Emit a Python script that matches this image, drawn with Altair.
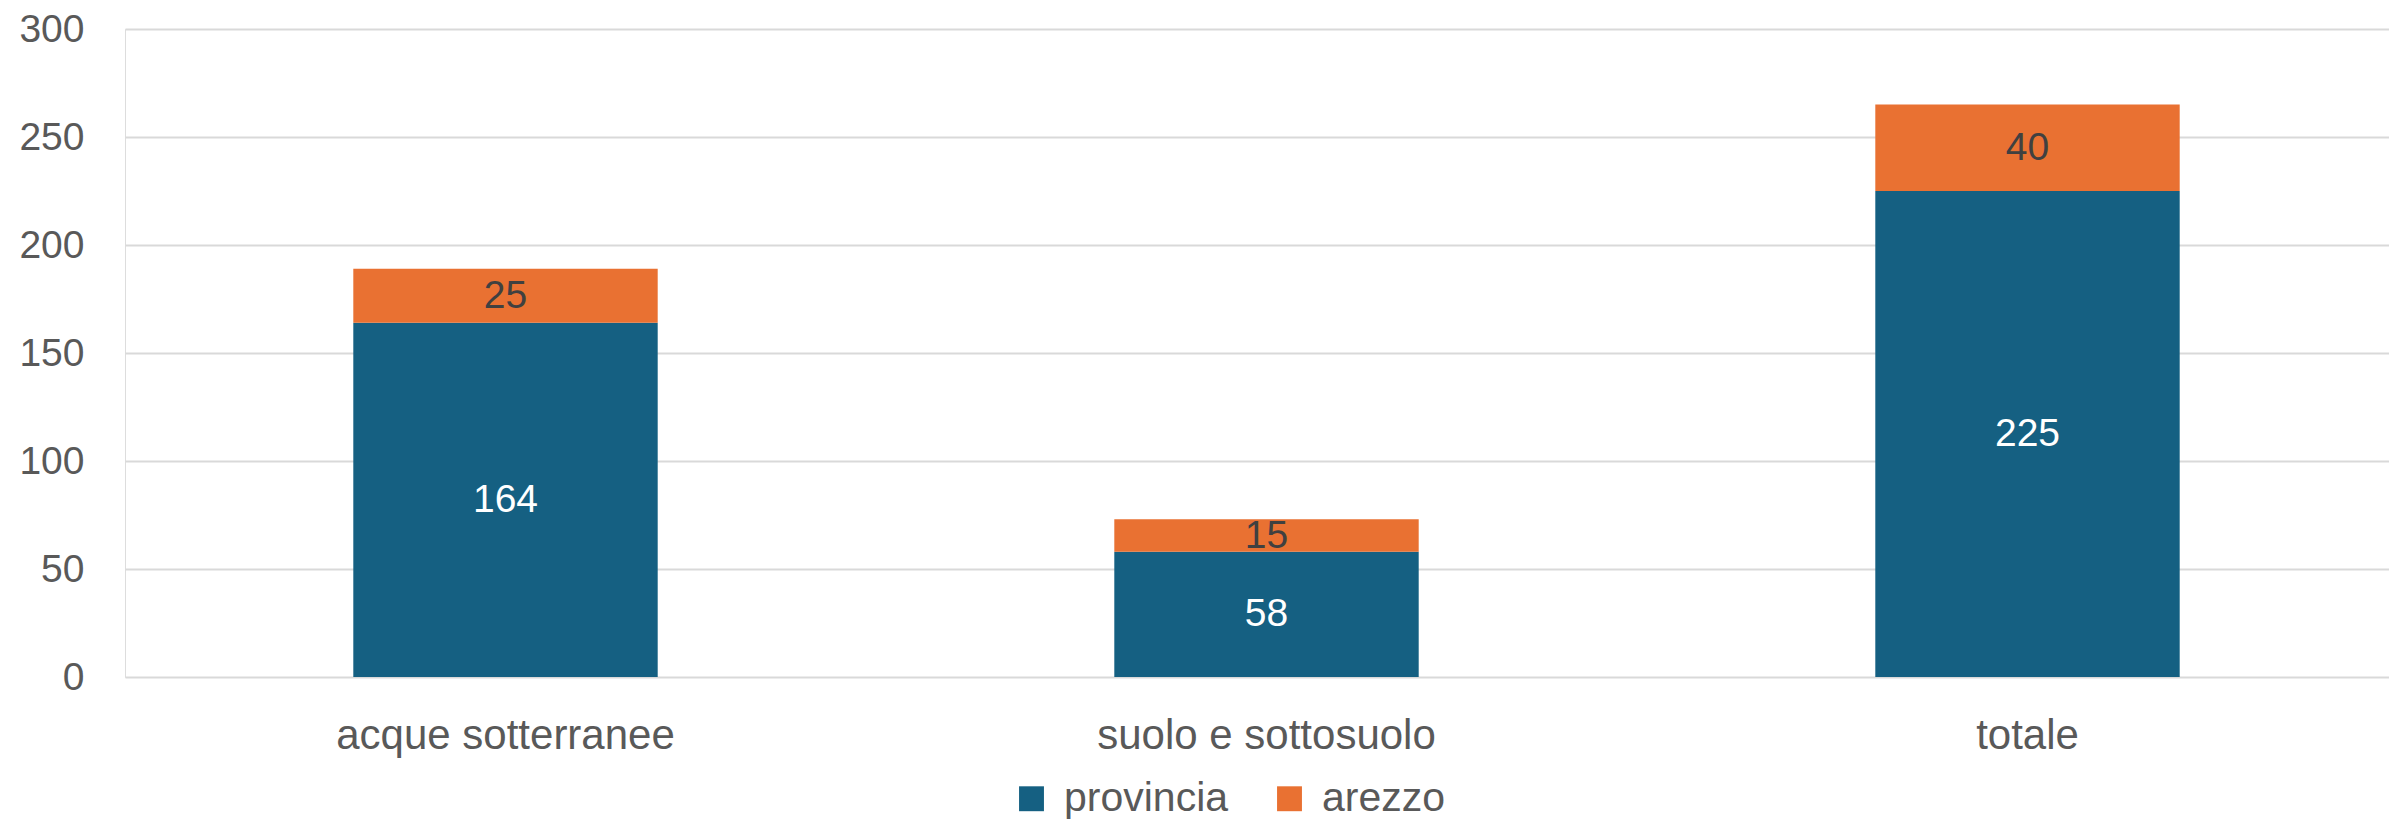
import altair as alt
import pandas as pd

categories = ["acque sotterranee", "suolo e sottosuolo", "totale"]
provincia = [164, 58, 225]
arezzo = [25, 15, 40]
series_names = ["provincia", "arezzo"]
y_ticks = [0, 50, 100, 150, 200, 250, 300]

rows = []
for c, p, a in zip(categories, provincia, arezzo):
    rows.append({"cat": c, "series": "provincia", "value": p, "y0": 0, "y1": p})
    rows.append({"cat": c, "series": "arezzo", "value": a, "y0": p, "y1": p + a})
df = pd.DataFrame(rows)
df["mid"] = (df["y0"] + df["y1"]) / 2

FONT = "Liberation Sans"
BLUE = "#156082"
ORANGE = "#E97132"

xenc = alt.X(
    "cat:N",
    sort=categories,
    title=None,
    scale=alt.Scale(paddingInner=0.6, paddingOuter=0.3, range=[0, 2283]),
    axis=alt.Axis(
        labelAngle=0, labelFontSize=42, labelFont=FONT, labelColor="#595959",
        domain=False, ticks=False, labelPadding=38, labelLimit=1000,
    ),
)
yscale = alt.Scale(domain=[0, 300], nice=False)

bars = alt.Chart(df).mark_bar().encode(
    x=xenc,
    y=alt.Y(
        "y0:Q", scale=yscale, title=None,
        axis=alt.Axis(
            values=y_ticks, labelFontSize=39, labelFont=FONT, labelColor="#595959",
            domain=False, ticks=False, labelPadding=41, gridColor="#D9D9D9", gridWidth=2,
        ),
    ),
    y2="y1:Q",
    color=alt.Color(
        "series:N",
        scale=alt.Scale(domain=series_names, range=[BLUE, ORANGE]),
        legend=alt.Legend(
            title=None, orient="none", direction="horizontal", legendX=886, legendY=749,
            symbolType="square", symbolSize=620, symbolStrokeWidth=0,
            labelFontSize=41, labelFont=FONT, labelColor="#595959", labelLimit=1000,
            labelOffset=12, columnPadding=40, symbolOpacity=1,
        ),
    ),
)

text_prov = alt.Chart(df).transform_filter(alt.datum.series == "provincia").mark_text(
    fontSize=39, font=FONT, color="white", baseline="middle"
).encode(x=alt.X("cat:N", sort=categories), y=alt.Y("mid:Q", scale=yscale), text="value:Q")

text_are = alt.Chart(df).transform_filter(alt.datum.series == "arezzo").mark_text(
    fontSize=39, font=FONT, color="#404040", baseline="middle"
).encode(x=alt.X("cat:N", sort=categories), y=alt.Y("mid:Q", scale=yscale), text="value:Q")

chart = alt.layer(bars, text_prov, text_are).properties(
    width=2264, height=648,
    autosize=alt.AutoSizeParams(type="none"),
    padding={"left": 117, "top": 21, "right": 0, "bottom": 142},
).configure_view(stroke=None).configure(background="white")

chart.save("out.html", embed_options={"renderer": "svg", "actions": False})
